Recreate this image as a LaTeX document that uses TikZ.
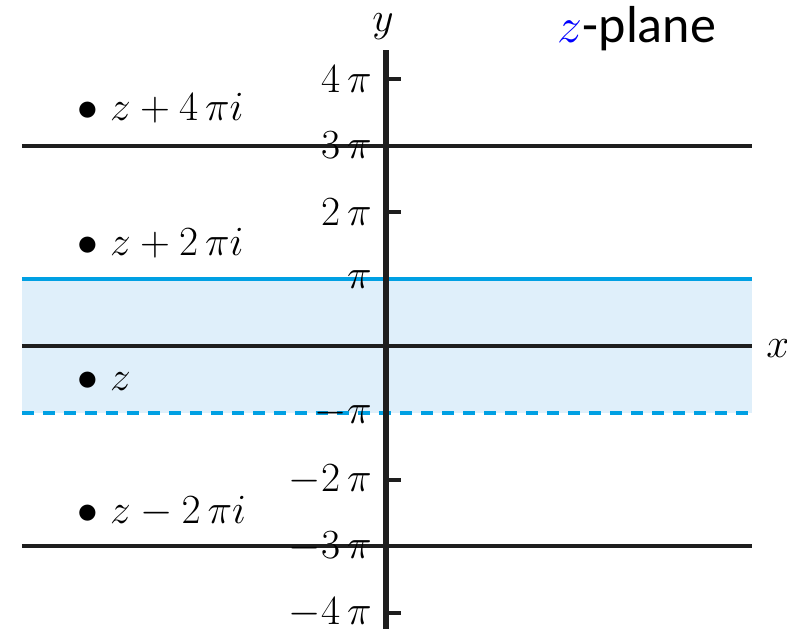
\documentclass[tikz,border=0pt]{standalone}
\usepackage{fontspec}
\usepackage{tikz}
\usetikzlibrary{positioning}
\newfontfamily\planefont{Carlito}
\definecolor{stripblue}{RGB}{0,160,227}
\definecolor{stripfill}{RGB}{223,239,250}
\definecolor{axisdark}{RGB}{30,30,30}
\tikzset{
  axisline/.style={line width=2.5pt, color=axisdark},
  gridline/.style={line width=2pt, color=axisdark},
  edgeline/.style={line width=2pt, color=stripblue},
  ticklabel/.style={anchor=east, inner sep=0pt, font=\fontsize{22}{24}\selectfont},
  ptlabel/.style={anchor=west, inner sep=0pt, font=\fontsize{20}{24}\selectfont},
  axislabel/.style={inner sep=0pt, font=\fontsize{21}{24}\selectfont}
}

\begin{document}
\begin{tikzpicture}[x=0.5pt, y=33.4pt]
  \useasboundingbox (-386,5.18) rectangle (401,-4.237);

  % Fundamental strip
  \fill[stripfill] (-364,-1) rectangle (366,1);
  \draw[edgeline] (-364,1) -- (366,1);
  \draw[edgeline, dash pattern=on 6pt off 4.5pt] (-364,-1) -- (366,-1);

  % Horizontal lines
  \foreach \k in {-3,0,3}
    \draw[gridline] (-364,\k) -- (366,\k);

  % Tick labels
  \foreach \k/\txt in {4/4\,\pi, 3/3\,\pi, 2/2\,\pi, 1/\pi, -1/-\pi, -2/-2\,\pi, -3/-3\,\pi, -4/-4\,\pi}
    \node[ticklabel] (t\k) at (-14,\k) {$\txt$};

  % Axis and ticks
  \draw[axisline] (0,4.43) -- (0,-4.237);
  \foreach \k in {-4,-2,2,4}
    \draw[gridline] (0,\k) -- (15,\k);

  % Points
  \node[ptlabel] (p4) at (-309,3.563) {${\bullet}\ z+4\,\pi i$};
  \node[ptlabel] (p2) at (-309,1.542) {${\bullet}\ z+2\,\pi i$};
  \node[ptlabel] (p0) at (-309,-0.524) {${\bullet}\ z$};
  \node[ptlabel] (pm) at (-309,-2.485) {${\bullet}\ z-2\,\pi i$};

  % Axis labels
  \node[axislabel] (ylab) at (-3,4.78) {$y$};
  \node[axislabel] (xlab) at (392,-0.04) {$x$};
  \node[inner sep=0pt, font=\fontsize{26}{30}\selectfont] (plane) at (251,4.75)
    {\textcolor{blue}{$z$}\planefont-plane};
\end{tikzpicture}
\end{document}
